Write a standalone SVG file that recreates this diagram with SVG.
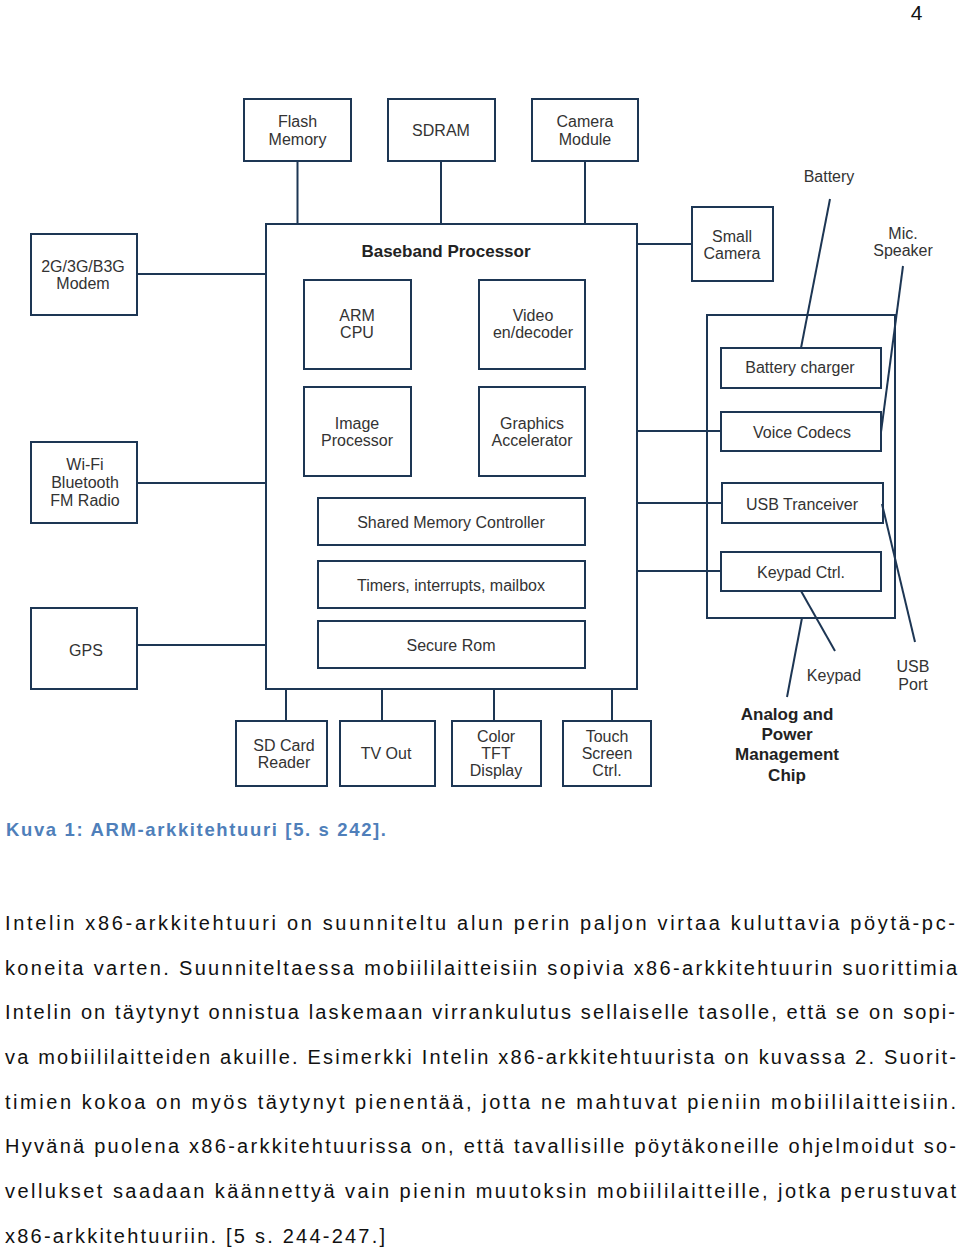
<svg xmlns="http://www.w3.org/2000/svg" width="960" height="1252" viewBox="0 0 960 1252">
<style>
.b{fill:#fff;stroke:#1d3654;stroke-width:2}
.c line{stroke:#1d3654;stroke-width:2}
.t{font-family:"Liberation Sans",Arial,sans-serif;font-size:16px;fill:#333;text-anchor:middle}
.h{font-family:"Liberation Sans",Arial,sans-serif;font-size:17px;font-weight:bold;fill:#222;text-anchor:middle}
.body{font-family:"Liberation Sans",Arial,sans-serif;font-size:20px;fill:#111}
.cap{font-family:"Liberation Sans",Arial,sans-serif;font-size:18.5px;font-weight:bold;fill:#4f7fba}
</style>
<rect width="960" height="1252" fill="#fff"/>
<text x="916.5" y="20" style="font-family:'Liberation Sans',Arial,sans-serif;font-size:21px;fill:#111" text-anchor="middle">4</text>

<g id="flash-memory"><rect class="b" x="244" y="99" width="107" height="62"/><text class="t" x="297.5" y="127">Flash</text><text class="t" x="297.5" y="145">Memory</text></g>
<g id="sdram"><rect class="b" x="388" y="99" width="107" height="62"/><text class="t" x="441" y="136">SDRAM</text></g>
<g id="camera-module"><rect class="b" x="532" y="99" width="106" height="62"/><text class="t" x="585" y="127">Camera</text><text class="t" x="585" y="145">Module</text></g>

<g id="modem"><rect class="b" x="31" y="234" width="106" height="81"/><text class="t" x="83" y="272">2G/3G/B3G</text><text class="t" x="83" y="289">Modem</text></g>
<g id="wifi"><rect class="b" x="31" y="442" width="106" height="81"/><text class="t" x="85" y="470">Wi-Fi</text><text class="t" x="85" y="488">Bluetooth</text><text class="t" x="85" y="506">FM Radio</text></g>
<g id="gps"><rect class="b" x="31" y="608" width="106" height="81"/><text class="t" x="86" y="656">GPS</text></g>

<g id="baseband-processor">
<rect class="b" x="266" y="224" width="371" height="465"/>
<text class="h" x="446" y="257">Baseband Processor</text>
<g id="arm-cpu"><rect class="b" x="304" y="280" width="107" height="89"/><text class="t" x="357" y="321">ARM</text><text class="t" x="357" y="338">CPU</text></g>
<g id="video"><rect class="b" x="479" y="280" width="106" height="89"/><text class="t" x="533" y="321">Video</text><text class="t" x="533" y="338">en/decoder</text></g>
<g id="image-processor"><rect class="b" x="304" y="387" width="107" height="89"/><text class="t" x="357" y="429">Image</text><text class="t" x="357" y="446">Processor</text></g>
<g id="graphics"><rect class="b" x="479" y="387" width="106" height="89"/><text class="t" x="532" y="429">Graphics</text><text class="t" x="532" y="446">Accelerator</text></g>
<g id="shared-memory"><rect class="b" x="318" y="498" width="267" height="47"/><text class="t" x="451" y="528">Shared Memory Controller</text></g>
<g id="timers"><rect class="b" x="318" y="561" width="267" height="47"/><text class="t" x="451" y="591">Timers, interrupts, mailbox</text></g>
<g id="secure-rom"><rect class="b" x="318" y="621" width="267" height="47"/><text class="t" x="451" y="651">Secure Rom</text></g>
</g>

<g id="small-camera"><rect class="b" x="692" y="207" width="81" height="74"/><text class="t" x="732" y="242">Small</text><text class="t" x="732" y="259">Camera</text></g>

<g id="apm-chip">
<rect class="b" x="707" y="315" width="188" height="303"/>
<g id="battery-charger"><rect class="b" x="721" y="348" width="160" height="40"/><text class="t" x="800" y="373">Battery charger</text></g>
<g id="voice-codecs"><rect class="b" x="721" y="412" width="160" height="39"/><text class="t" x="802" y="438">Voice Codecs</text></g>
<g id="usb-tranceiver"><rect class="b" x="722" y="483" width="161" height="40"/><text class="t" x="802" y="510">USB Tranceiver</text></g>
<g id="keypad-ctrl"><rect class="b" x="721" y="552" width="160" height="39"/><text class="t" x="801" y="578">Keypad Ctrl.</text></g>
</g>

<g id="battery"><text class="t" x="829" y="182">Battery</text></g>
<g id="mic-speaker"><text class="t" x="903" y="239">Mic.</text><text class="t" x="903" y="256">Speaker</text></g>
<g id="keypad"><text class="t" x="834" y="681">Keypad</text></g>
<g id="usb-port"><text class="t" x="913" y="672">USB</text><text class="t" x="913" y="690">Port</text></g>
<g id="apm-label"><text class="h" x="787" y="720">Analog and</text><text class="h" x="787" y="740">Power</text><text class="h" x="787" y="760">Management</text><text class="h" x="787" y="781">Chip</text></g>

<g id="sd-card"><rect class="b" x="236" y="721" width="91" height="65"/><text class="t" x="284" y="751">SD Card</text><text class="t" x="284" y="768">Reader</text></g>
<g id="tv-out"><rect class="b" x="340" y="721" width="95" height="65"/><text class="t" x="386" y="759">TV Out</text></g>
<g id="tft"><rect class="b" x="452" y="721" width="89" height="65"/><text class="t" x="496" y="742">Color</text><text class="t" x="496" y="759">TFT</text><text class="t" x="496" y="776">Display</text></g>
<g id="touch"><rect class="b" x="563" y="721" width="88" height="65"/><text class="t" x="607" y="742">Touch</text><text class="t" x="607" y="759">Screen</text><text class="t" x="607" y="776">Ctrl.</text></g>

<g class="c" id="connectors">
<line x1="297.5" y1="161" x2="297.5" y2="224"/>
<line x1="441" y1="161" x2="441" y2="224"/>
<line x1="585" y1="161" x2="585" y2="224"/>
<line x1="137" y1="274" x2="266" y2="274"/>
<line x1="137" y1="483" x2="266" y2="483"/>
<line x1="137" y1="645" x2="266" y2="645"/>
<line x1="637" y1="244" x2="692" y2="244"/>
<line x1="637" y1="431" x2="721" y2="431"/>
<line x1="637" y1="503" x2="722" y2="503"/>
<line x1="637" y1="571" x2="721" y2="571"/>
<line x1="286" y1="689" x2="286" y2="721"/>
<line x1="382" y1="689" x2="382" y2="721"/>
<line x1="494" y1="689" x2="494" y2="721"/>
<line x1="612" y1="689" x2="612" y2="721"/>
<line x1="830" y1="199" x2="801" y2="348"/>
<line x1="903" y1="266" x2="881" y2="432"/>
<line x1="882" y1="504" x2="915" y2="642"/>
<line x1="801" y1="591" x2="835" y2="651"/>
<line x1="802" y1="618" x2="787" y2="697"/>
</g>

<text class="cap" x="6" y="836" textLength="380" lengthAdjust="spacing">Kuva 1: ARM-arkkitehtuuri [5. s 242].</text>

<g id="body-text">
<text class="body" x="5" y="930" textLength="950" lengthAdjust="spacing">Intelin x86-arkkitehtuuri on suunniteltu alun perin paljon virtaa kuluttavia pöytä-pc-</text>
<text class="body" x="5" y="975" textLength="952" lengthAdjust="spacing">koneita varten. Suunniteltaessa mobiililaitteisiin sopivia x86-arkkitehtuurin suorittimia</text>
<text class="body" x="5" y="1019" textLength="950" lengthAdjust="spacing">Intelin on täytynyt onnistua laskemaan virrankulutus sellaiselle tasolle, että se on sopi-</text>
<text class="body" x="5" y="1064" textLength="951" lengthAdjust="spacing">va mobiililaitteiden akuille. Esimerkki Intelin x86-arkkitehtuurista on kuvassa 2. Suorit-</text>
<text class="body" x="5" y="1109" textLength="951" lengthAdjust="spacing">timien kokoa on myös täytynyt pienentää, jotta ne mahtuvat pieniin mobiililaitteisiin.</text>
<text class="body" x="5" y="1153" textLength="951" lengthAdjust="spacing">Hyvänä puolena x86-arkkitehtuurissa on, että tavallisille pöytäkoneille ohjelmoidut so-</text>
<text class="body" x="5" y="1198" textLength="951" lengthAdjust="spacing">vellukset saadaan käännettyä vain pienin muutoksin mobiililaitteille, jotka perustuvat</text>
<text class="body" x="5" y="1243" textLength="380" lengthAdjust="spacing">x86-arkkitehtuuriin. [5 s. 244-247.]</text>
</g>
</svg>
